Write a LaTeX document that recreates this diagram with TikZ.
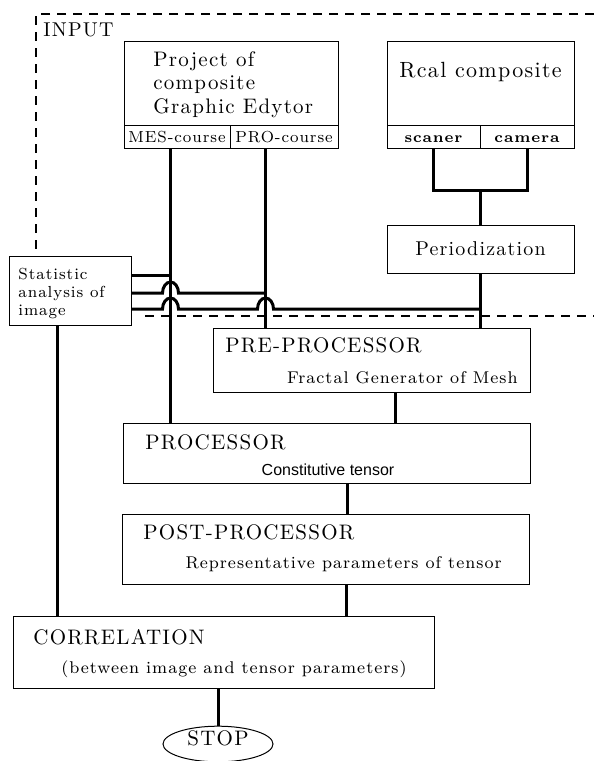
\documentclass[tikz,border=0pt]{standalone}
\usepackage{fontspec}
\setmainfont{Latin Modern Roman}[LetterSpace=6]
\newfontfamily\helv{Liberation Sans}
\usetikzlibrary{shapes.geometric}

\begin{document}
\begin{tikzpicture}[x=0.5pt,y=-0.5pt,line join=miter,
                    box node/.style={rectangle,draw,line width=0.5pt,inner sep=0pt},
                    link line/.style={line width=1.5pt},
                    frame line/.style={line width=0.9pt,dash pattern=on 4.5pt off 3.5pt},
                    head text/.style={anchor=base west,inner sep=0pt,font=\fontsize{10.5}{12}\selectfont},
                    sub text/.style={inner sep=0pt,font=\fontsize{8.5}{10}\selectfont},
                    cell text/.style={anchor=base,inner sep=0pt,font=\fontsize{8}{10}\selectfont},
                    hop/.style={start angle=180,end angle=0,x radius=4pt,y radius=5.5pt}]
  \useasboundingbox (0,0) rectangle (594,761);

  \node[box node,minimum width=107pt,minimum height=42pt] (project) at (231,83) {};
  \node[box node,minimum width=53pt,minimum height=11.5pt] (mes) at (177,136.5) {};
  \node[box node,minimum width=54pt,minimum height=11.5pt] (pro) at (284,136.5) {};
  \node[box node,minimum width=93.5pt,minimum height=42pt] (real) at (480.5,83) {};
  \node[box node,minimum width=46.5pt,minimum height=11.5pt] (scaner) at (433.5,136.5) {};
  \node[box node,minimum width=47pt,minimum height=11.5pt] (camera) at (527,136.5) {};
  \node[box node,minimum width=93.5pt,minimum height=24pt] (period) at (480.5,249) {};
  \node[box node,minimum width=61pt,minimum height=34.5pt] (stat) at (70,290.5) {};
  \node[box node,minimum width=158.5pt,minimum height=32pt] (pre) at (371.5,360) {};
  \node[box node,minimum width=203.5pt,minimum height=30pt] (proc) at (326.5,453) {};
  \node[box node,minimum width=203.5pt,minimum height=35pt] (post) at (325.5,549) {};
  \node[box node,minimum width=210.5pt,minimum height=36pt] (corr) at (223.5,652) {};
  \node[ellipse,draw,line width=0.5pt,inner sep=0pt,minimum width=55pt,minimum height=16pt,
        text height=6.8pt,text depth=5.8pt,font=\fontsize{10.5}{12}\selectfont] (stop) at (218,744) {STOP};

  \node[anchor=base west,inner sep=0pt,font=\fontsize{10}{12}\selectfont] (input) at (43,36) {INPUT};
  \node[anchor=base west,inner sep=0pt,font=\fontsize{10.5}{12}\selectfont] (project1) at (153,66) {Project of};
  \node[anchor=base west,inner sep=0pt,font=\fontsize{10.5}{12}\selectfont] (project2) at (153,89) {composite};
  \node[anchor=base west,inner sep=0pt,font=\fontsize{10.5}{12}\selectfont] (project3) at (153,113) {Graphic Edytor};
  \node[cell text] at (177,142) {MES-course};
  \node[cell text] at (284,142) {PRO-course};
  \node[anchor=base,inner sep=0pt,font=\fontsize{11}{12}\selectfont] at (480.5,77) {Rcal composite};
  \node[cell text,font=\fontsize{7.5}{10}\bfseries] at (433.5,142) {scaner};
  \node[cell text,font=\fontsize{7.5}{10}\bfseries] at (527,142) {camera};
  \node[anchor=base,inner sep=0pt,font=\fontsize{10}{12}\selectfont] at (480.5,255) {Periodization};
  \node[anchor=base west,inner sep=0pt,font=\fontsize{8}{10}\selectfont] at (18,279) {Statistic};
  \node[anchor=base west,inner sep=0pt,font=\fontsize{8}{10}\selectfont] at (18,297) {analysis of};
  \node[anchor=base west,inner sep=0pt,font=\fontsize{8}{10}\selectfont] at (18,315) {image};

  \node[head text] at (225,352) {PRE-PROCESSOR};
  \node[sub text,anchor=base east] at (518,383) {Fractal Generator of Mesh};
  \node[head text] at (145,449) {PROCESSOR};
  \node[anchor=base,inner sep=0pt,font=\helv\fontsize{8}{10}\selectfont] at (328,475) {Constitutive tensor};
  \node[head text] at (143,539) {POST-PROCESSOR};
  \node[sub text,anchor=base east] at (502,568) {Representative parameters of tensor};
  \node[head text] at (33,644) {CORRELATION};
  \node[sub text,anchor=base east] at (407,673) {(between image and tensor parameters)};

  \draw[frame line] (594,14) -| (36,256);
  \draw[frame line] (145,316) -- (594,316);

  \coordinate (join) at (480.5,190);
  \draw[link line] (scaner.south) |- (join) -| (camera.south);
  \draw[link line] (join) -- (period.north);
  \draw[link line] (period.south) -- (period.south |- pre.north);
  \draw[link line] ([xshift=-3.5pt]mes.south) -- ([xshift=-3.5pt]mes.south |- proc.north);
  \draw[link line] ([xshift=-9.5pt]pro.south) -- ([xshift=-9.5pt]pro.south |- pre.north);

  \draw[link line] ([yshift=7.75pt]stat.east) -- ([yshift=7.75pt,xshift=-3.5pt]stat.east -| mes.south);
  \draw[link line] ([yshift=-1.25pt]stat.east) -- ++(31,0) arc[hop]
                   -- ([yshift=-1.25pt,xshift=-9.5pt]stat.east -| pro.south);
  \draw[link line] ([yshift=-9.25pt]stat.east) -- ++(31,0) arc[hop] -- ++(79,0) arc[hop]
                   -- ([yshift=-9.25pt]stat.east -| period.south);

  \draw[link line] ([xshift=-6.5pt]stat.south) -- ([xshift=-6.5pt]stat.south |- corr.north);
  \draw[link line] ([xshift=11.75pt]pre.south) -- ([xshift=11.75pt]pre.south |- proc.north);
  \draw[link line] ([xshift=10.25pt]proc.south) -- ([xshift=10.25pt]proc.south |- post.north);
  \draw[link line] ([xshift=10.25pt]post.south) -- ([xshift=10.25pt]post.south |- corr.north);
  \draw[link line] (stop.north |- corr.south) -- (stop.north);
\end{tikzpicture}
\end{document}
